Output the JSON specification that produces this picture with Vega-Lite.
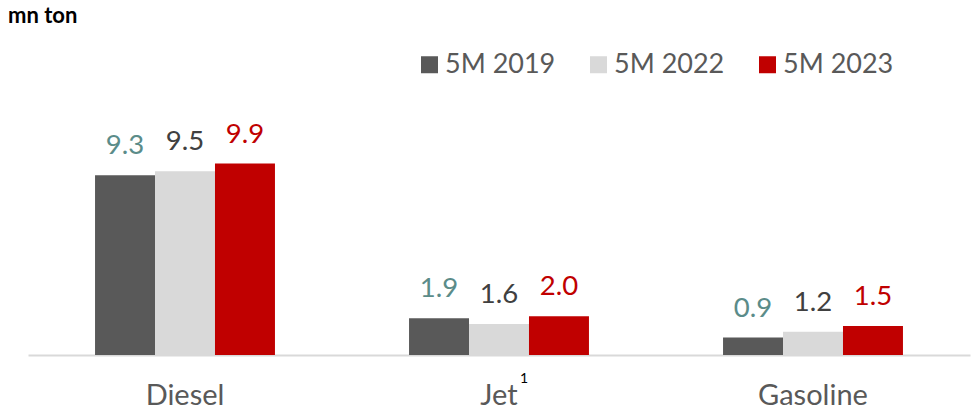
{
  "$schema": "https://vega.github.io/schema/vega-lite/v6.json",
  "autosize": "none",
  "width": 942,
  "height": 232,
  "padding": {"left": 28, "top": 123, "right": 5, "bottom": 63},
  "background": "white",
  "config": {"view": {"stroke": null}, "font": "Lato"},
  "title": {"text": "mn ton", "anchor": "start", "frame": "group", "dx": -20, "dy": 25, "offset": 31, "baseline": "alphabetic", "fontSize": 22, "fontWeight": "bold", "color": "#000000", "font": "Lato"},
  "data": {"values": [
    {"fuel": "Diesel", "year": "5M 2019", "value": 9.3, "note": ""},
    {"fuel": "Diesel", "year": "5M 2022", "value": 9.5, "note": ""},
    {"fuel": "Diesel", "year": "5M 2023", "value": 9.9, "note": ""},
    {"fuel": "Jet", "year": "5M 2019", "value": 1.9, "note": ""},
    {"fuel": "Jet", "year": "5M 2022", "value": 1.6, "note": "1"},
    {"fuel": "Jet", "year": "5M 2023", "value": 2.0, "note": ""},
    {"fuel": "Gasoline", "year": "5M 2019", "value": 0.9, "note": ""},
    {"fuel": "Gasoline", "year": "5M 2022", "value": 1.2, "note": ""},
    {"fuel": "Gasoline", "year": "5M 2023", "value": 1.5, "note": ""}
  ]},
  "encoding": {
    "x": {"field": "fuel", "type": "nominal", "sort": ["Diesel", "Jet", "Gasoline"],
      "scale": {"paddingInner": 0.427, "paddingOuter": 0.2135},
      "axis": {"title": null, "labelAngle": 0, "ticks": false, "tickSize": 0, "labelPadding": 49, "labelBaseline": "alphabetic", "labelFontSize": 29, "labelColor": "#595959", "labelFont": "Lato", "domainColor": "#D9D9D9", "domainWidth": 2, "grid": false}},
    "xOffset": {"field": "year", "type": "nominal", "scale": {"paddingInner": 0, "paddingOuter": 0}},
    "y": {"field": "value", "type": "quantitative", "scale": {"domain": [0, 12], "nice": false}, "axis": null}
  },
  "layer": [
    {
      "mark": {"type": "bar"},
      "encoding": {
        "color": {"field": "year", "type": "nominal",
          "scale": {"domain": ["5M 2019", "5M 2022", "5M 2023"], "range": ["#595959", "#D9D9D9", "#C00000"]},
          "legend": {"title": null, "orient": "none", "direction": "horizontal", "legendX": 388, "legendY": -72, "symbolType": "square", "symbolSize": 289, "symbolStrokeWidth": 0, "symbolOpacity": 1, "labelFontSize": 27, "labelFont": "Lato", "labelColor": "#595959", "labelOffset": 2, "columnPadding": 29, "padding": 0}}
      }
    },
    {
      "mark": {"type": "text", "baseline": "alphabetic", "dy": -21, "fontSize": 27.5, "font": "Lato"},
      "encoding": {
        "text": {"field": "value", "type": "quantitative", "format": ".1f"},
        "color": {"field": "year", "type": "nominal",
          "scale": {"domain": ["5M 2019", "5M 2022", "5M 2023"], "range": ["#5B8C89", "#404040", "#C00000"]},
          "legend": null}
      }
    },
    {
      "transform": [{"filter": "datum.note != ''"}],
      "mark": {"type": "text", "baseline": "alphabetic", "dy": 28, "dx": 25, "fontSize": 14, "font": "Lato", "color": "#000000"},
      "encoding": {
        "y": {"datum": 0},
        "text": {"field": "note", "type": "nominal"}
      }
    }
  ],
  "resolve": {"scale": {"color": "independent"}}
}
